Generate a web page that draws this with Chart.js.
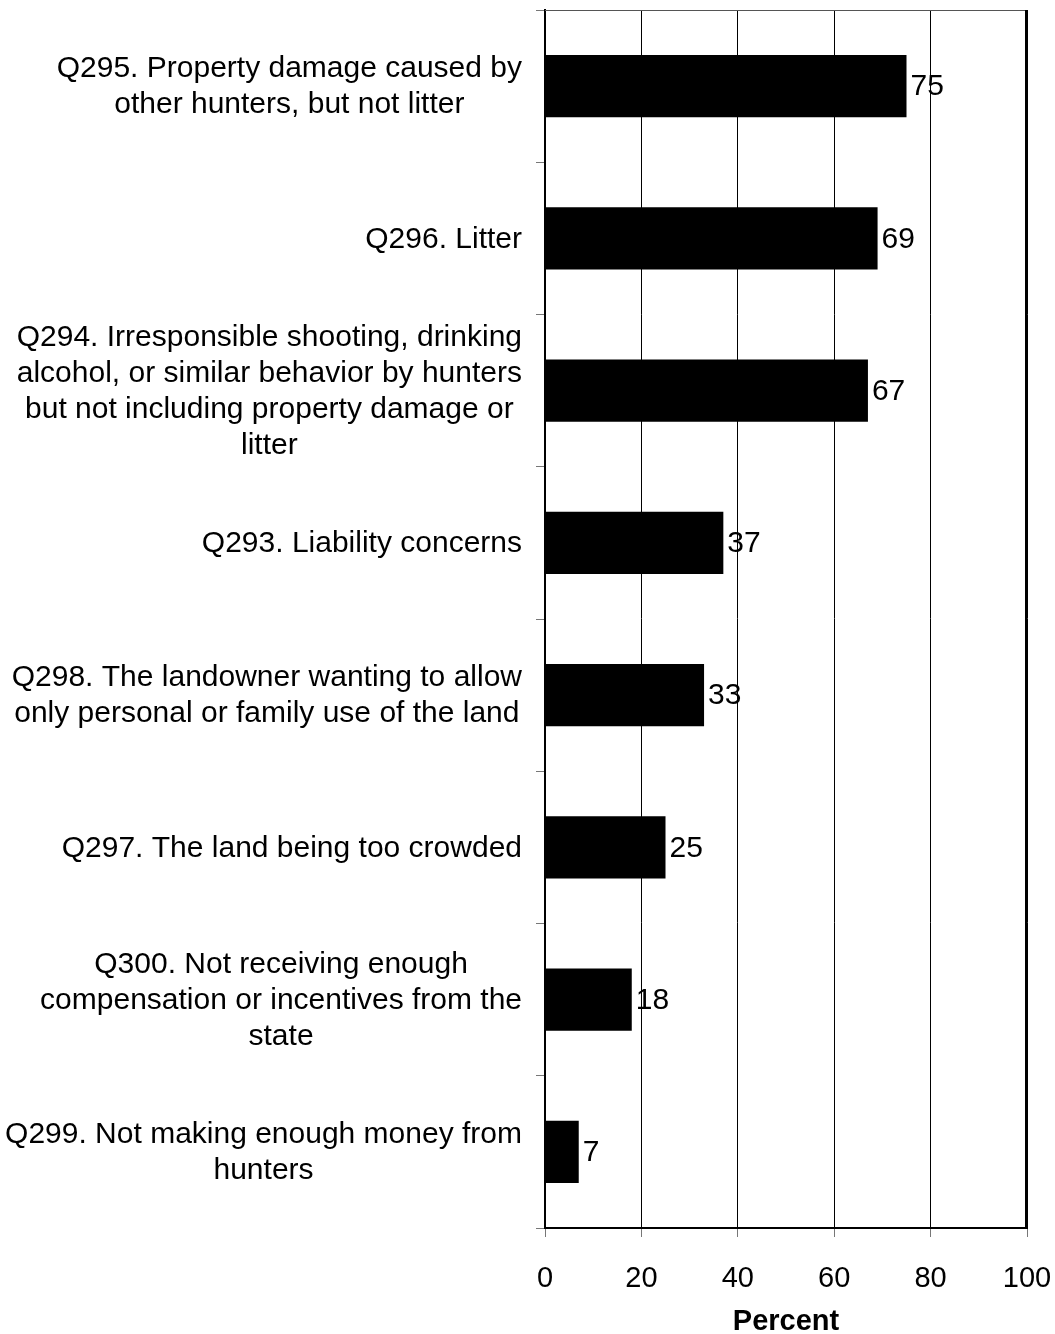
<!DOCTYPE html>
<html>
<head>
<meta charset="utf-8">
<script src="https://cdn.jsdelivr.net/npm/chart.js@4"></script>
<style>
html,body{margin:0;padding:0;background:#fff;}
#wrap{width:1055px;height:1334px;position:relative;}
</style>
</head>
<body>
<div id="wrap"><canvas id="c" width="1055" height="1334"></canvas></div>
<script>
const categories = [
  ["Q295. Property damage caused by", "other hunters, but not litter"],
  ["Q296. Litter"],
  ["Q294. Irresponsible shooting, drinking", "alcohol, or similar behavior by hunters", "but not including property damage or", "litter"],
  ["Q293. Liability concerns"],
  ["Q298. The landowner wanting to allow", "only personal or family use of the land"],
  ["Q297. The land being too crowded"],
  ["Q300. Not receiving enough", "compensation or incentives from the", "state"],
  ["Q299. Not making enough money from", "hunters"]
];
const values = [75, 69, 67, 37, 33, 25, 18, 7];
const xTicks = [0, 20, 40, 60, 80, 100];
const xTitle = "Percent";

const FONT = "'Liberation Sans', Arial, sans-serif";
const FS = 30;
const TFS = 29;

const labelPlugin = {
  id: 'customLabels',
  afterDatasetsDraw(chart) {
    const ctx = chart.ctx;
    const meta = chart.getDatasetMeta(0);
    ctx.save();
    ctx.fillStyle = '#000';
    ctx.font = FS + 'px ' + FONT;
    ctx.textBaseline = 'middle';
    ctx.textAlign = 'left';
    meta.data.forEach((bar, i) => {
      ctx.fillText(String(values[i]), bar.x + 4, bar.y + 1);
    });
    const yScale = chart.scales.y;
    const rightEdge = yScale.right - 23;
    const lh = 36;
    categories.forEach((lines, i) => {
      const cy = yScale.getPixelForValue(i);
      let maxW = 0;
      lines.forEach(l => { maxW = Math.max(maxW, ctx.measureText(l).width); });
      const cx = rightEdge - maxW / 2;
      ctx.textAlign = 'center';
      const start = cy - (lines.length - 1) * lh / 2;
      lines.forEach((l, k) => ctx.fillText(l, cx, start + k * lh + 1));
    });
    ctx.restore();
  }
};

const borderPlugin = {
  id: 'frame',
  afterDraw(chart) {
    const a = chart.chartArea;
    const ctx = chart.ctx;
    ctx.save();
    ctx.strokeStyle = '#555';
    ctx.lineWidth = 1;
    ctx.beginPath();
    ctx.moveTo(a.left, a.top + 0.5);
    ctx.lineTo(a.right, a.top + 0.5);
    ctx.stroke();
    ctx.strokeStyle = '#000';
    ctx.lineWidth = 2;
    ctx.beginPath();
    ctx.moveTo(a.right - 1, a.top);
    ctx.lineTo(a.right - 1, a.bottom);
    ctx.stroke();
    ctx.restore();
  }
};

new Chart(document.getElementById('c'), {
  type: 'bar',
  data: {
    labels: categories.map(c => c.join(' ')),
    datasets: [{
      data: values,
      backgroundColor: '#000',
      borderWidth: 0,
      barPercentage: 0.82,
      categoryPercentage: 0.5
    }]
  },
  options: {
    indexAxis: 'y',
    responsive: false,
    animation: false,
    devicePixelRatio: 1,
    layout: { padding: { top: 10, right: 28, left: 0, bottom: 0 } },
    plugins: { legend: { display: false }, tooltip: { enabled: false } },
    scales: {
      x: {
        min: 0, max: 100,
        afterBuildTicks(scale) { scale.ticks = xTicks.map(v => ({ value: v })); },
        afterFit(scale) { scale.height = 106; scale.paddingLeft = 0; scale.paddingRight = 0; },
        grid: { color: '#000', lineWidth: 1, tickLength: 9, tickColor: '#777', drawTicks: true },
        border: { color: '#000', width: 2 },
        ticks: { color: '#000', font: { family: FONT, size: TFS }, padding: 25, maxRotation: 0 },
        title: { display: true, text: xTitle, color: '#000', font: { family: FONT, size: TFS, weight: 'bold', lineHeight: 0.85 }, padding: { top: 10, bottom: 0 } }
      },
      y: {
        afterFit(scale) { scale.width = 545; },
        grid: { offset: true, drawOnChartArea: false, tickLength: 9, tickColor: '#777', drawTicks: true },
        border: { color: '#000', width: 2 },
        ticks: { display: false }
      }
    }
  },
  plugins: [labelPlugin, borderPlugin]
});
</script>
</body>
</html>
